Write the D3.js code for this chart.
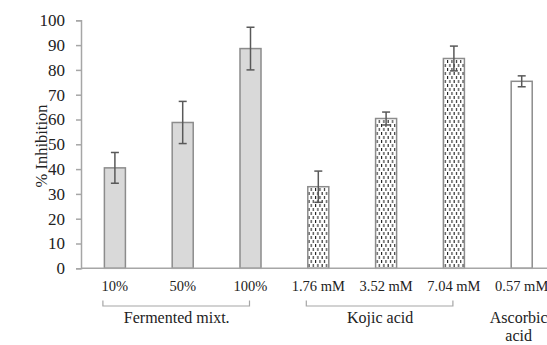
<!DOCTYPE html>
<html>
<head>
<meta charset="utf-8">
<script src="https://cdn.jsdelivr.net/npm/d3@7"></script>
<style>
  body { margin: 0; background: #fff; }
</style>
</head>
<body>
<div id="chart"></div>
<script>
// Data
const labels = ['10%', '50%', '100%', '1.76 mM', '3.52 mM', '7.04 mM', '0.57 mM'];
const values = [40.5, 58.8, 88.6, 32.9, 60.4, 84.6, 75.4];
const errors = [6.2, 8.5, 8.6, 6.3, 2.6, 5.0, 2.2];
const fills = ['solid', 'solid', 'solid', 'dots', 'dots', 'dots', 'none'];
const groups = [
  { name: ['Fermented mixt.'], from: 0, to: 2 },
  { name: ['Kojic acid'], from: 3, to: 5 },
  { name: ['Ascorbic', 'acid'], from: 6, to: 6 }
];
const yTicks = [0, 10, 20, 30, 40, 50, 60, 70, 80, 90, 100];

const width = 547, height = 345;
const margin = { left: 81, top: 20, bottom: 77 };
const serif = '"Liberation Serif", "Times New Roman", serif';

const svg = d3.select('#chart').append('svg')
  .attr('width', width)
  .attr('height', height);

// dashed pattern for kojic acid bars
const defs = svg.append('defs');
const pat = defs.append('pattern')
  .attr('id', 'dots')
  .attr('patternUnits', 'userSpaceOnUse')
  .attr('width', 4.4)
  .attr('height', 8);
pat.append('rect').attr('width', 4.4).attr('height', 8).attr('fill', '#fff');
pat.append('line').attr('x1', 1).attr('x2', 1).attr('y1', 0).attr('y2', 3)
  .attr('stroke', '#111').attr('stroke-width', 1);
pat.append('line').attr('x1', 3.2).attr('x2', 3.2).attr('y1', 4).attr('y2', 7)
  .attr('stroke', '#111').attr('stroke-width', 1);

const x = d3.scaleBand()
  .domain(labels)
  .range([margin.left, margin.left + 67.8 * labels.length])
  .paddingInner(0.69)
  .paddingOuter(0.345);

const y = d3.scaleLinear()
  .domain([0, 100])
  .range([height - margin.bottom + 0.3, margin.top + 0.3]);

// y axis
const yAxis = svg.append('g')
  .attr('transform', `translate(${margin.left},0)`)
  .call(d3.axisLeft(y).tickValues(yTicks).tickSize(5).tickPadding(11));
yAxis.attr('font-family', null).attr('font-size', null);
yAxis.select('.domain').attr('stroke', '#a6a6a6').attr('stroke-width', 1.5);
yAxis.selectAll('.tick line').attr('stroke', '#a6a6a6').attr('stroke-width', 1.5);
yAxis.selectAll('.tick text')
  .style('font-family', serif)
  .style('font-size', '17px')
  .attr('fill', '#222');

// bars
svg.append('g').selectAll('rect')
  .data(labels)
  .join('rect')
  .attr('x', d => x(d))
  .attr('y', (d, i) => y(values[i]))
  .attr('width', x.bandwidth())
  .attr('height', (d, i) => y(0) - y(values[i]))
  .attr('fill', (d, i) => fills[i] === 'solid' ? '#d9d9d9' : fills[i] === 'dots' ? 'url(#dots)' : '#fff')
  .attr('stroke', '#8c8c8c')
  .attr('stroke-width', 1.5);

// x axis line
svg.append('line')
  .attr('x1', margin.left)
  .attr('x2', width)
  .attr('y1', y(0))
  .attr('y2', y(0))
  .attr('stroke', '#a6a6a6')
  .attr('stroke-width', 1.5);

// error bars
const err = svg.append('g').attr('stroke', '#595959').attr('stroke-width', 1.5);
labels.forEach((d, i) => {
  const cx = x(d) + x.bandwidth() / 2;
  const top = y(values[i] + errors[i]);
  const bot = y(values[i] - errors[i]);
  err.append('line').attr('x1', cx).attr('x2', cx).attr('y1', top).attr('y2', bot);
  err.append('line').attr('x1', cx - 4).attr('x2', cx + 4).attr('y1', top).attr('y2', top);
  err.append('line').attr('x1', cx - 4).attr('x2', cx + 4).attr('y1', bot).attr('y2', bot);
});

// category labels
svg.append('g').selectAll('text')
  .data(labels)
  .join('text')
  .attr('x', d => x(d) + x.bandwidth() / 2)
  .attr('y', 291)
  .attr('text-anchor', 'middle')
  .attr('fill', '#222')
  .style('font-family', serif)
  .style('font-size', '14.5px')
  .text(d => d);

// group brackets and names
groups.forEach(g => {
  const x0 = x(labels[g.from]) + x.bandwidth() / 2 - 12;
  const x1 = x(labels[g.to]) + x.bandwidth() / 2 - 1;
  const multi = g.from !== g.to;
  if (multi) {
    svg.append('path')
      .attr('d', `M${x0},300.5V306H${x1}V300.5`)
      .attr('fill', 'none')
      .attr('stroke', '#a6a6a6')
      .attr('stroke-width', 1.2);
  }
  const cx = (x(labels[g.from]) + x(labels[g.to]) + x.bandwidth()) / 2 + (multi ? -6 : -3);
  const t = svg.append('text')
    .attr('x', cx)
    .attr('y', 323)
    .attr('text-anchor', 'middle')
    .attr('fill', '#222')
    .style('font-family', serif)
    .style('font-size', '16px');
  g.name.forEach((line, k) => {
    t.append('tspan').attr('x', cx).attr('dy', k === 0 ? 0 : 18).text(line);
  });
});

// y axis title
svg.append('text')
  .attr('transform', `translate(47,146) rotate(-90)`)
  .attr('text-anchor', 'middle')
  .attr('fill', '#222')
  .style('font-family', serif)
  .style('font-size', '16.5px')
  .text('% Inhibition');
</script>
</body>
</html>
